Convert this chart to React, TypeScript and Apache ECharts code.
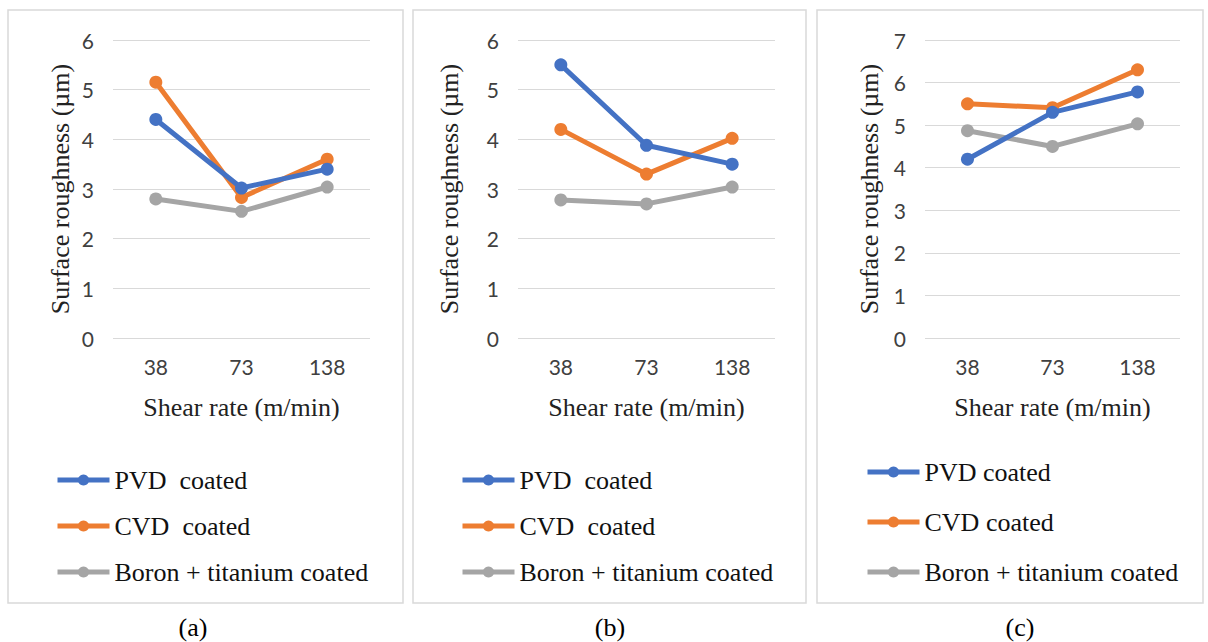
import React, { useEffect, useRef } from "react";
import * as echarts from "echarts";

const categories = ["38", "73", "138"];

const pvdA = [4.4, 3.02, 3.4];
const cvdA = [5.15, 2.83, 3.6];
const boronA = [2.8, 2.55, 3.04];

const pvdB = [5.5, 3.88, 3.5];
const cvdB = [4.2, 3.3, 4.02];
const boronB = [2.78, 2.7, 3.04];

const pvdC = [4.2, 5.3, 5.78];
const cvdC = [5.5, 5.41, 6.3];
const boronC = [4.87, 4.5, 5.03];

const namesAB = ["PVD  coated", "CVD  coated", "Boron + titanium coated"];
const namesC = ["PVD coated", "CVD coated", "Boron + titanium coated"];
const captions = ["(a)", "(b)", "(c)"];
const yMax = [6, 6, 7];

const colors = ["#4472C4", "#ED7D31", "#A5A5A5"];
const serif = "'Liberation Serif', 'Times New Roman', serif";
const sans = "Lato, 'Open Sans', sans-serif";

export default function App() {
  const ref = useRef<HTMLDivElement>(null);
  useEffect(() => {
    if (!ref.current) return;
    const chart = echarts.init(ref.current, undefined, { renderer: "svg" });

    const panels = [
      { box: [8, 10, 395, 593], grid: [113, 40, 257, 298], nameGapY: 40, legend: [50, 462, 20], cap: 193, data: [pvdA, cvdA, boronA], names: namesAB },
      { box: [413, 10, 393, 593], grid: [518, 40, 257, 298], nameGapY: 56, legend: [455, 462, 20], cap: 610, data: [pvdB, cvdB, boronB], names: namesAB },
      { box: [817, 10, 386, 593], grid: [925, 40, 255, 298], nameGapY: 43, legend: [860, 454, 24], cap: 1020, data: [pvdC, cvdC, boronC], names: namesC },
    ];

    const series: any[] = [];
    panels.forEach((p, i) => {
      p.data.forEach((d, k) => {
        series.push({
          type: "line",
          name: p.names[k],
          xAxisIndex: i,
          yAxisIndex: i,
          data: d,
          symbol: "circle",
          symbolSize: 13,
          lineStyle: { width: 5, color: colors[k] },
          itemStyle: { color: colors[k] },
          z: 6 - k,
        });
      });
    });

    const graphic: any[] = [];
    panels.forEach((p, i) => {
      graphic.push({
        type: "rect",
        shape: { x: p.box[0], y: p.box[1], width: p.box[2], height: p.box[3] },
        style: { fill: "#ffffff", stroke: "#D9D9D9", lineWidth: 1.5 },
        z: -10,
      });
      graphic.push({
        type: "text",
        x: p.cap,
        y: 627,
        style: { text: captions[i], font: `26px ${serif}`, fill: "#000", align: "center", verticalAlign: "middle" },
      });
    });

    chart.setOption({
      animation: false,
      backgroundColor: "#ffffff",
      graphic,
      grid: panels.map((p) => ({ left: p.grid[0], top: p.grid[1], width: p.grid[2], height: p.grid[3] })),
      xAxis: panels.map((p, i) => ({
        type: "category",
        gridIndex: i,
        data: categories,
        boundaryGap: true,
        axisLine: { show: false },
        axisTick: { show: false },
        axisLabel: { fontFamily: sans, fontSize: 21, color: "#404040", margin: 18 },
        name: "Shear rate (m/min)",
        nameLocation: "middle",
        nameGap: 56,
        nameTextStyle: { fontFamily: serif, fontSize: 26, color: "#222" },
      })),
      yAxis: panels.map((p, i) => ({
        type: "value",
        gridIndex: i,
        min: 0,
        max: yMax[i],
        interval: 1,
        axisLine: { show: false },
        axisTick: { show: false },
        splitLine: { lineStyle: { color: "#D9D9D9", width: 1.2 } },
        axisLabel: { fontFamily: sans, fontSize: 21, color: "#404040", margin: 19 },
        name: "Surface roughness (\u00b5m)",
        nameLocation: "middle",
        nameGap: p.nameGapY,
        nameTextStyle: { fontFamily: serif, fontSize: 26, color: "#222" },
      })),
      legend: panels.map((p) => ({
        orient: "vertical",
        left: p.legend[0],
        top: p.legend[1],
        itemGap: p.legend[2],
        itemWidth: 52,
        itemHeight: 14,
        data: p.names,
        selectedMode: false,
        lineStyle: { width: 5 },
        textStyle: { fontFamily: serif, fontSize: 26, color: "#111", lineHeight: 26 },
      })),
      series,
    });

    return () => chart.dispose();
  }, []);

  return (
    <div
      ref={ref}
      style={{ position: "absolute", left: 0, top: 0, width: 1208, height: 642 }}
    />
  );
}
